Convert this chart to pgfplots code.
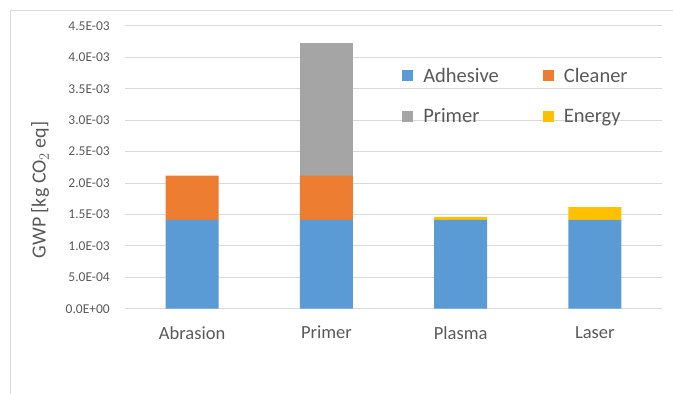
\documentclass[border=0pt]{standalone}
\usepackage{pgfplots}
\pgfplotsset{compat=1.18}
\usepackage{fontspec}
\setmainfont{Carlito}
\definecolor{cAdh}{HTML}{5B9BD5}
\definecolor{cCln}{HTML}{ED7D31}
\definecolor{cPri}{HTML}{A5A5A5}
\definecolor{cEne}{HTML}{FFC000}
\definecolor{txt}{HTML}{595959}
\definecolor{gridc}{HTML}{D9D9D9}
\pgfplotsset{sq legend/.style={legend image code/.code={\fill[##1,draw=none] (0pt,-5.5pt) rectangle (11pt,5.5pt);}}}
\begin{document}
\begin{tikzpicture}[x=1pt,y=1pt]
\useasboundingbox (0,0) rectangle (673,394);
\draw[gridc,line width=1pt] (10.5,0) -- (10.5,383.5) -- (673,383.5);
\begin{axis}[
  at={(125pt,85.3pt)}, anchor=south west,
  scale only axis, width=537pt, height=282.7pt,
  ybar stacked, bar width=53pt,
  xmin=-0.5, xmax=3.5, ymin=0, ymax=4.5e-3,
  xtick=data, xticklabels={Abrasion,Primer,Plasma,Laser},
  ytick={0,0.5e-3,1e-3,1.5e-3,2e-3,2.5e-3,3e-3,3.5e-3,4e-3,4.5e-3},
  yticklabels={0.0E+00,5.0E-04,1.0E-03,1.5E-03,2.0E-03,2.5E-03,3.0E-03,3.5E-03,4.0E-03,4.5E-03},
  scaled y ticks=false,
  /pgf/number format/assume math mode=true,
  axis line style={draw=none}, major tick length=0pt,
  xmajorgrids=false, ymajorgrids=true,
  grid style={draw=gridc,line width=1pt},
  yticklabel style={font=\fontsize{13.5}{15}\selectfont, text=txt, inner sep=0pt, xshift=-15pt},
  xticklabel style={font=\fontsize{18.5}{20}\selectfont, text=txt, yshift=-14pt},
  ylabel={GWP [kg CO$_2$ eq]},
  every axis y label/.style={at={(axis description cs:-0.158,0.42)}, rotate=90, anchor=center, font=\fontsize{20}{22}\selectfont, text=txt},
  legend columns=2,
  legend cell align=left,
  legend style={at={(axis description cs:0.516,0.86)}, anchor=north west, draw=none, fill=none,
    font=\fontsize{20.5}{22}\selectfont, text=txt, inner sep=0pt, row sep=21pt, column sep=8pt,
    /tikz/every even column/.append style={column sep=42pt}},
]
\addplot+[fill=cAdh, draw=none, sq legend] coordinates {(0,1.412e-3) (1,1.412e-3) (2,1.412e-3) (3,1.412e-3)};
\addplot+[fill=cCln, draw=none, sq legend] coordinates {(0,0.706e-3) (1,0.706e-3) (2,0) (3,0)};
\addplot+[fill=cPri, draw=none, sq legend] coordinates {(0,0) (1,2.108e-3) (2,0) (3,0)};
\addplot+[fill=cEne, draw=none, sq legend] coordinates {(0,0) (1,0) (2,0.05e-3) (3,0.203e-3)};
\legend{Adhesive,Cleaner,Primer,Energy}
\end{axis}
\end{tikzpicture}
\end{document}
